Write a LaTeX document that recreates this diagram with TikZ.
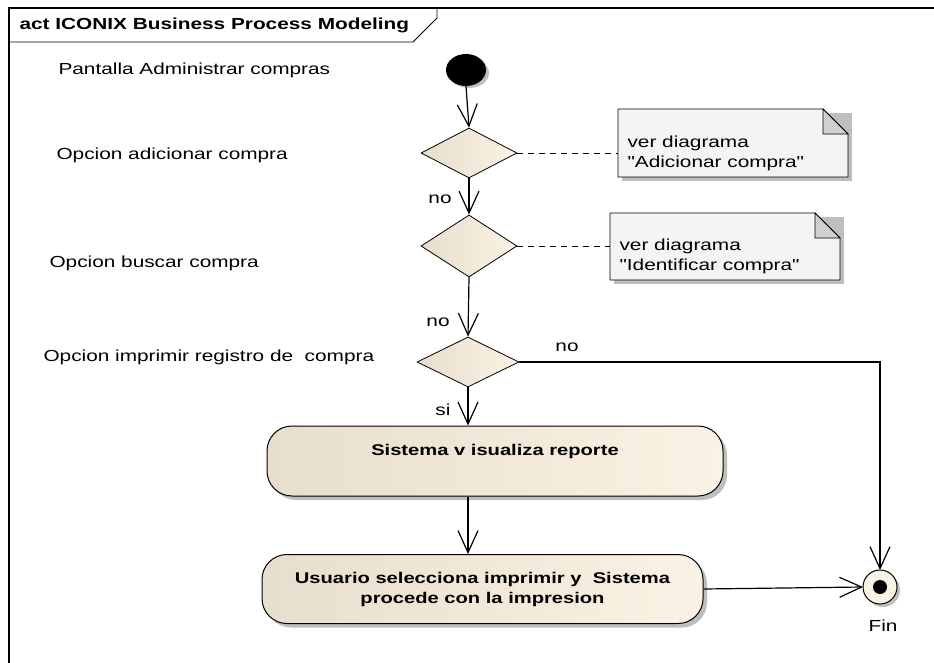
\documentclass[tikz,border=0pt]{standalone}
\usepackage{fontspec}
\setmainfont[FakeStretch=1.3]{Liberation Sans}
\newfontfamily\notefont[FakeStretch=1.3]{Liberation Sans}
\usetikzlibrary{positioning,arrows.meta,shapes.geometric,shadows,calc}
\definecolor{actfill}{RGB}{250,242,228}
\definecolor{actdark}{RGB}{232,222,206}
\definecolor{notefill}{RGB}{246,243,246}
\definecolor{shadowgray}{RGB}{190,190,190}

\tikzset{
  flow/.style={draw,line width=1.2pt,-{Straight Barb[length=22pt,width=20pt,line width=1.2pt]}},
  decision/.style={diamond,draw,line width=0.8pt,aspect=1.9,minimum width=96pt,
    minimum height=50pt,inner sep=0pt,left color=actdark,right color=actfill},
  actbox/.style={draw,line width=1pt,rounded corners=25pt,left color=actdark,
    right color=actfill,font=\bfseries\fontsize{15.5}{20}\selectfont,align=center,
    drop shadow={shadow xshift=4pt,shadow yshift=-4pt,fill=shadowgray,opacity=1}},
  sidelabel/.style={anchor=west,font=\fontsize{16}{18}\selectfont},
  tag/.style={font=\fontsize{16}{18}\selectfont}
}

\begin{document}
\begin{tikzpicture}[x=1pt,y=-1pt]
\useasboundingbox (0,0) rectangle (934,663);
% marco
\draw[line width=1.2pt] (934,8) -- (9,8) -- (9,663);
\draw[line width=0.8pt] (9,42) -- (413,42) -- (437,18) -- (437,8);
\node[anchor=west,font=\bfseries\fontsize{16}{18}\selectfont] (title) at (16,25) {act ICONIX Business Process Modeling};

% inicio
\fill[shadowgray] (469,73) ellipse (20pt and 15pt);
\fill[black] (466,70) ellipse (20pt and 16pt);
\coordinate (inicio) at (466,86);

% decisiones
\node[decision] (opc1) at (469,153) {};
\node[decision,minimum height=62pt,aspect=1.5] (opc2) at (469,246) {};
\node[decision,minimum width=102pt] (opc3) at (468,362) {};

% acciones
\node[actbox,minimum width=456pt,minimum height=70pt,text depth=22pt] (visualiza) at (495,461) {Sistema v isualiza reporte};
\node[actbox,minimum width=441pt,minimum height=69pt] (imprime) at (482.5,589) {Usuario selecciona imprimir y \ Sistema\\procede con la impresion};

% fin
\fill[shadowgray] (883,590) circle (17pt);
\draw[line width=1pt,fill=actfill] (880,587) circle (17pt);
\fill[black] (880,587) circle (7pt);
\coordinate (fintop) at (880,570);
\coordinate (finizq) at (863,587);
\node[tag] (finlbl) at (883,626) {Fin};

% notas
\foreach \nm/\xa/\ya/\xb/\yb/\txt in {nota1/618/109/848/177/{ver diagrama\\"Adicionar compra"},
    nota2/610/213/840/280/{ver diagrama\\"Identificar compra"}}{
  \fill[shadowgray] (\xa+4,\ya+4) rectangle (\xb+4,\yb+4);
  \draw[line width=0.8pt,fill=notefill] (\xa,\ya) -- (\xb-25,\ya) -- (\xb,\ya+25) -- (\xb,\yb) -- (\xa,\yb) -- cycle;
  \draw[line width=0.8pt,fill=shadowgray!70] (\xb-25,\ya) -- (\xb-25,\ya+25) -- (\xb,\ya+25) -- cycle;
  \node[anchor=west,align=left,font=\notefont\fontsize{16}{20}\selectfont] (\nm) at (\xa+6,{(\ya+\yb)/2+10}) {\txt};
}
\coordinate (n1) at (618,153);
\coordinate (n2) at (610,246);

% etiquetas
\node[sidelabel] (l1) at (55,70) {Pantalla Administrar compras};
\node[sidelabel] (l2) at (53,155) {Opcion adicionar compra};
\node[sidelabel] (l3) at (46,263) {Opcion buscar compra};
\node[sidelabel] (l4) at (40,357) {Opcion imprimir registro de \ compra};

% flujos
\draw[flow] (inicio) -- (opc1.north);
\draw[flow] (opc1.south) -- (opc2.north);
\draw[flow] (opc2.south) -- (opc3.north);
\draw[flow] (opc3.south) -- (visualiza.north -| opc3.south);
\draw[flow] (visualiza.south -| opc3.south) -- (imprime.north -| opc3.south);
\draw[flow] (opc3.east) -| (fintop);
\draw[flow] (imprime.east) -- (finizq);
\draw[line width=0.8pt,dash pattern=on 6pt off 5pt] (opc1.east) -- (n1);
\draw[line width=0.8pt,dash pattern=on 6pt off 5pt] (opc2.east) -- (n2);

\node[tag] (no1) at (440,199) {no};
\node[tag] (no2) at (438,322) {no};
\node[tag] (no3) at (567,347) {no};
\node[tag] (si) at (443,410) {si};
\end{tikzpicture}
\end{document}
